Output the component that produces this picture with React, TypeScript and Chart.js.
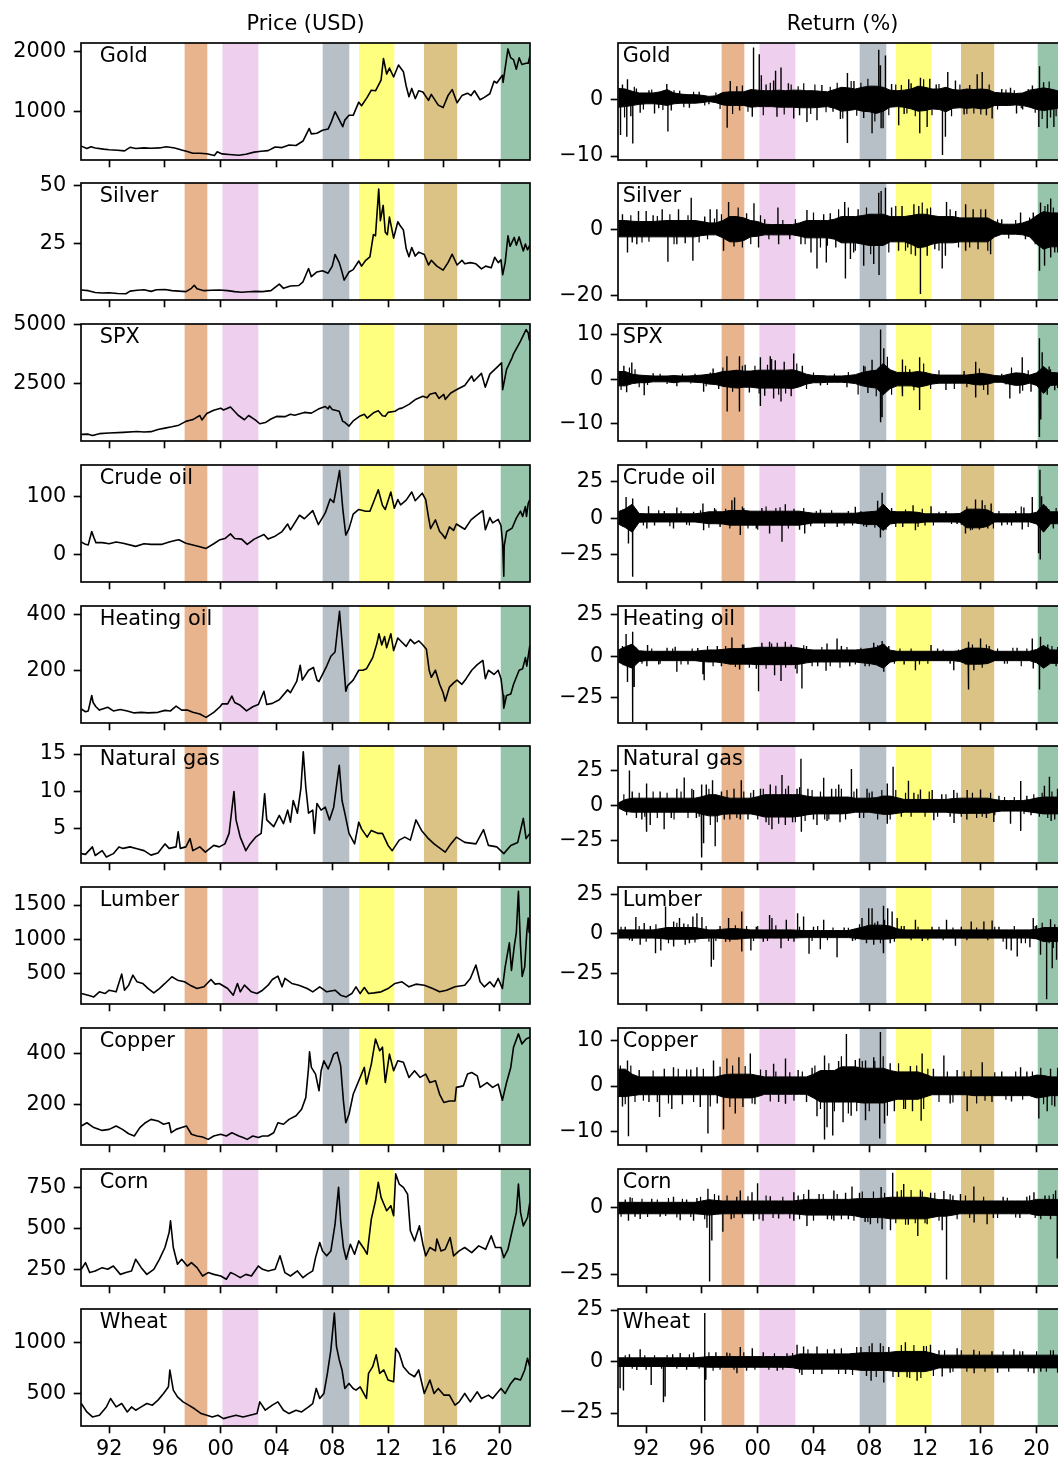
import React, { useEffect, useRef } from "react";
import { Chart, registerables } from "chart.js";

Chart.register(...registerables);
Chart.defaults.font.family = "DejaVu Sans";
Chart.defaults.color = "#000";

type Pair = [number, number];

// ---------------- time axis ----------------
const X_START = 1989.98;
const X_END = 2022.18;
const YEAR_TICKS = [1992, 1996, 2000, 2004, 2008, 2012, 2016, 2020];
const YEAR_LABELS = ["92", "96", "00", "04", "08", "12", "16", "20"];
const HALF_YEARS = Array.from({ length: 65 }, (_, i) => 1990 + i / 2);

// ---------------- shaded periods ----------------
const PERIOD_START = [1997.41, 2000.12, 2007.31, 2009.92, 2014.58, 2020.08];
const PERIOD_END = [1999.04, 2002.7, 2009.22, 2012.45, 2016.96, 2022.18];
const PERIOD_COLORS = ["#e8b48e", "#eecfee", "#b7bfc7", "#ffff7f", "#dbc285", "#96c5ab"];

const ASSETS = ["Gold", "Silver", "SPX", "Crude oil", "Heating oil", "Natural gas", "Lumber", "Copper", "Corn", "Wheat"];
const COLUMN_TITLES = ["Price (USD)", "Return (%)"];

// ---------------- prices [year, value] ----------------
const GOLD_PRICE: Pair[] = [[1990.0,415],[1990.4,375],[1990.7,405],[1991.0,385],[1991.6,365],[1992.0,355],[1992.6,345],[1993.1,335],[1993.5,395],[1993.9,375],[1994.5,385],[1995.0,380],[1995.6,385],[1996.1,405],[1996.7,385],[1997.2,350],[1997.6,325],[1998.0,295],[1998.5,295],[1999.0,288],[1999.55,258],[1999.75,320],[2000.1,285],[2000.6,275],[2001.3,262],[2001.8,280],[2002.4,315],[2002.9,330],[2003.4,340],[2003.9,400],[2004.4,390],[2004.9,435],[2005.4,425],[2005.9,500],[2006.35,710],[2006.5,620],[2006.9,630],[2007.3,680],[2007.7,700],[2007.95,830],[2008.2,990],[2008.45,880],[2008.75,740],[2008.9,850],[2009.2,930],[2009.5,930],[2009.9,1150],[2010.1,1090],[2010.5,1230],[2010.8,1350],[2011.1,1340],[2011.5,1520],[2011.67,1880],[2011.9,1620],[2012.1,1720],[2012.4,1570],[2012.75,1770],[2013.1,1660],[2013.3,1420],[2013.5,1240],[2013.7,1380],[2013.95,1210],[2014.2,1340],[2014.5,1320],[2014.9,1180],[2015.1,1280],[2015.6,1100],[2015.95,1060],[2016.3,1260],[2016.6,1360],[2016.95,1140],[2017.3,1260],[2017.7,1300],[2017.95,1260],[2018.2,1340],[2018.6,1190],[2018.9,1230],[2019.3,1290],[2019.6,1500],[2019.8,1470],[2020.2,1600],[2020.25,1480],[2020.6,2040],[2020.8,1890],[2021.0,1860],[2021.2,1700],[2021.4,1890],[2021.6,1780],[2021.9,1800],[2022.05,1800],[2022.17,1920]];
const SILVER_PRICE: Pair[] = [[1990.0,5.3],[1990.5,5.0],[1991.0,4.2],[1991.5,4.0],[1992.0,4.1],[1992.6,3.8],[1993.2,3.7],[1993.5,4.8],[1994.0,5.2],[1994.5,5.4],[1995.0,4.7],[1995.4,5.4],[1996.0,5.5],[1996.5,5.0],[1997.0,4.8],[1997.5,4.6],[1997.9,6.0],[1998.1,7.3],[1998.3,5.8],[1998.8,5.0],[1999.3,5.2],[1999.9,5.3],[2000.5,5.0],[2001.0,4.6],[2001.5,4.3],[2002.0,4.5],[2002.5,4.7],[2003.0,4.6],[2003.6,5.0],[2004.2,7.8],[2004.5,6.0],[2005.0,7.0],[2005.6,7.2],[2005.9,8.8],[2006.3,14.5],[2006.5,11.0],[2006.9,13.0],[2007.3,13.5],[2007.7,12.5],[2008.0,15.5],[2008.2,20.5],[2008.5,17.0],[2008.7,13.0],[2008.85,9.5],[2009.2,13.0],[2009.5,14.0],[2009.9,17.7],[2010.1,15.5],[2010.4,18.0],[2010.7,19.5],[2010.95,29.0],[2011.1,28.5],[2011.33,48.5],[2011.45,35.0],[2011.65,41.5],[2011.8,30.0],[2011.95,29.0],[2012.1,36.5],[2012.4,27.5],[2012.7,34.5],[2012.85,33.0],[2013.1,31.0],[2013.3,23.0],[2013.5,19.5],[2013.7,23.5],[2013.95,19.8],[2014.2,21.5],[2014.6,20.5],[2014.9,16.0],[2015.1,18.0],[2015.5,15.5],[2015.95,13.8],[2016.3,17.0],[2016.6,20.6],[2016.95,16.0],[2017.3,18.0],[2017.5,16.5],[2017.9,17.0],[2018.3,16.5],[2018.7,14.3],[2019.0,15.5],[2019.4,14.8],[2019.65,19.3],[2019.9,17.0],[2020.1,18.2],[2020.22,11.8],[2020.4,17.0],[2020.6,28.5],[2020.75,24.0],[2021.05,27.8],[2021.2,24.5],[2021.4,28.0],[2021.7,22.0],[2021.85,25.0],[2022.0,22.5],[2022.17,24.5]];
const SPX_PRICE: Pair[] = [[1990.0,350],[1990.5,360],[1990.8,300],[1991.0,330],[1991.3,380],[1992.0,410],[1993.0,435],[1994.0,470],[1994.5,450],[1995.0,465],[1995.5,560],[1996.0,615],[1996.5,670],[1997.0,740],[1997.5,900],[1997.8,950],[1998.0,975],[1998.5,1150],[1998.65,960],[1999.0,1230],[1999.5,1370],[2000.0,1460],[2000.2,1380],[2000.7,1510],[2001.0,1320],[2001.25,1160],[2001.7,970],[2002.0,1150],[2002.5,950],[2002.8,800],[2003.2,850],[2003.6,1000],[2004.0,1110],[2004.6,1100],[2005.0,1200],[2005.3,1160],[2006.0,1280],[2006.5,1250],[2007.0,1420],[2007.5,1530],[2007.7,1430],[2007.8,1550],[2008.0,1400],[2008.5,1330],[2008.75,900],[2008.9,860],[2009.2,700],[2009.5,920],[2010.0,1130],[2010.3,1200],[2010.5,1040],[2011.0,1280],[2011.3,1350],[2011.6,1140],[2011.8,1120],[2012.0,1280],[2012.5,1330],[2012.8,1440],[2013.0,1460],[2013.5,1620],[2014.0,1840],[2014.5,1960],[2014.8,1900],[2015.0,2050],[2015.4,2110],[2015.65,1870],[2016.0,2040],[2016.1,1830],[2016.5,2100],[2017.0,2270],[2017.5,2420],[2018.0,2820],[2018.15,2600],[2018.7,2930],[2018.97,2350],[2019.3,2900],[2019.9,3240],[2020.14,3380],[2020.22,2240],[2020.5,3100],[2020.9,3600],[2021.0,3760],[2021.5,4300],[2021.9,4780],[2022.05,4650],[2022.13,4350],[2022.17,4450]];
const CRUDE_PRICE: Pair[] = [[1990.0,22],[1990.3,18],[1990.5,17],[1990.75,40],[1990.9,30],[1991.05,21],[1991.5,21],[1992.0,19],[1992.5,22],[1993.0,20],[1993.9,14.5],[1994.5,19],[1995.0,18],[1995.8,18],[1996.3,22],[1996.8,25],[1997.0,26],[1997.5,20],[1998.0,17],[1998.5,14],[1998.95,11],[1999.5,19],[1999.95,26],[2000.3,28],[2000.7,36],[2001.0,28],[2001.5,27],[2001.9,18],[2002.4,27],[2003.1,35],[2003.4,27],[2003.9,32],[2004.4,40],[2004.8,53],[2005.0,43],[2005.65,68],[2006.0,62],[2006.6,76],[2007.0,52],[2007.5,72],[2007.85,96],[2008.1,90],[2008.3,115],[2008.52,145],[2008.75,80],[2008.97,34],[2009.2,45],[2009.5,70],[2009.9,78],[2010.4,75],[2010.7,75],[2010.95,90],[2011.3,112],[2011.6,85],[2011.8,78],[2012.2,108],[2012.45,80],[2012.7,95],[2012.9,86],[2013.3,94],[2013.7,108],[2013.95,93],[2014.45,106],[2014.7,95],[2014.9,65],[2015.05,45],[2015.4,60],[2015.7,40],[2015.9,35],[2016.1,28],[2016.4,48],[2016.7,42],[2016.9,53],[2017.5,44],[2017.95,60],[2018.3,67],[2018.8,76],[2018.98,43],[2019.3,64],[2019.5,55],[2019.9,61],[2020.1,50],[2020.22,20],[2020.3,-37],[2020.33,15],[2020.5,40],[2020.9,46],[2021.2,63],[2021.5,75],[2021.65,66],[2021.85,83],[2021.93,66],[2022.05,88],[2022.17,95]];
const HEATING_PRICE: Pair[] = [[1990.0,62],[1990.3,52],[1990.5,55],[1990.75,110],[1990.85,85],[1991.05,70],[1991.3,58],[1991.9,68],[1992.3,55],[1992.8,60],[1993.3,55],[1993.8,48],[1994.3,50],[1994.8,48],[1995.5,50],[1996.0,57],[1996.4,55],[1996.8,72],[1997.2,58],[1997.6,58],[1998.0,50],[1998.5,44],[1998.95,32],[1999.5,50],[1999.95,70],[2000.1,80],[2000.5,80],[2000.8,108],[2001.0,85],[2001.4,75],[2001.85,55],[2002.3,70],[2002.7,78],[2003.1,125],[2003.3,78],[2003.7,82],[2004.2,95],[2004.8,130],[2005.0,120],[2005.45,160],[2005.7,218],[2005.85,165],[2006.3,200],[2006.65,210],[2006.9,165],[2007.05,160],[2007.6,215],[2007.9,250],[2008.2,265],[2008.52,410],[2008.7,300],[2008.97,125],[2009.1,145],[2009.5,165],[2009.9,200],[2010.2,200],[2010.45,205],[2010.9,245],[2011.2,295],[2011.35,330],[2011.55,290],[2011.75,320],[2011.9,280],[2012.2,330],[2012.4,270],[2012.7,315],[2013.0,300],[2013.3,285],[2013.6,310],[2013.9,295],[2014.2,305],[2014.5,290],[2014.75,275],[2014.95,200],[2015.1,175],[2015.4,200],[2015.7,150],[2015.95,120],[2016.1,90],[2016.4,140],[2016.7,155],[2016.95,165],[2017.3,150],[2017.6,170],[2018.0,200],[2018.4,220],[2018.8,235],[2018.98,170],[2019.2,200],[2019.6,185],[2019.9,200],[2020.1,170],[2020.25,110],[2020.3,65],[2020.5,110],[2020.8,115],[2021.0,150],[2021.4,200],[2021.65,205],[2021.85,245],[2021.95,215],[2022.17,290]];
const NATGAS_PRICE: Pair[] = [[1990.0,1.7],[1990.3,1.6],[1990.8,2.6],[1991.0,1.45],[1991.5,2.1],[1991.8,1.25],[1992.3,1.7],[1992.7,2.6],[1993.0,2.4],[1993.5,2.6],[1994.0,2.35],[1994.5,2.1],[1995.0,1.5],[1995.5,1.8],[1996.0,3.0],[1996.3,2.4],[1996.8,2.6],[1996.95,4.6],[1997.1,2.4],[1997.5,2.6],[1997.8,3.7],[1998.0,2.1],[1998.5,2.6],[1998.9,1.9],[1999.5,2.8],[1999.9,2.6],[2000.3,3.0],[2000.6,4.4],[2000.95,10.0],[2001.1,6.2],[2001.4,3.9],[2001.8,2.1],[2002.1,3.0],[2002.5,3.9],[2002.9,4.4],[2003.15,9.7],[2003.3,6.2],[2003.8,5.3],[2004.2,6.8],[2004.5,5.7],[2004.8,7.5],[2005.0,5.9],[2005.2,8.8],[2005.5,7.1],[2005.75,10.4],[2005.92,15.3],[2006.1,10.6],[2006.3,7.1],[2006.6,7.5],[2006.72,4.4],[2006.9,8.4],[2007.2,7.5],[2007.5,7.9],[2007.8,6.2],[2008.1,7.9],[2008.5,13.5],[2008.7,8.8],[2008.9,7.1],[2009.2,4.4],[2009.6,3.0],[2009.9,5.9],[2010.1,5.0],[2010.5,3.9],[2010.8,4.8],[2011.3,4.4],[2011.6,4.4],[2012.0,2.8],[2012.3,2.1],[2012.8,3.5],[2013.2,3.9],[2013.6,3.5],[2014.0,6.2],[2014.4,4.8],[2014.9,3.7],[2015.3,3.0],[2016.1,1.9],[2016.5,3.0],[2016.9,3.9],[2017.5,3.2],[2018.3,3.0],[2018.85,4.9],[2019.2,2.8],[2019.8,2.6],[2020.3,1.7],[2020.8,2.8],[2021.3,3.2],[2021.7,6.4],[2021.9,3.7],[2022.17,4.4]];
const LUMBER_PRICE: Pair[] = [[1990.0,212],[1990.5,188],[1990.9,163],[1991.3,237],[1991.7,212],[1992.0,261],[1992.5,237],[1992.9,495],[1993.1,261],[1993.4,334],[1993.7,480],[1994.0,383],[1994.4,359],[1994.8,285],[1995.2,222],[1995.6,285],[1996.0,359],[1996.5,456],[1996.9,407],[1997.4,383],[1997.8,334],[1998.3,285],[1998.8,310],[1999.3,417],[1999.6,349],[1999.9,359],[2000.5,285],[2000.9,188],[2001.2,359],[2001.4,237],[2001.7,334],[2002.2,237],[2002.6,212],[2003.0,261],[2003.4,334],[2003.7,417],[2004.1,466],[2004.4,310],[2004.6,432],[2005.1,359],[2005.6,334],[2006.2,285],[2006.6,237],[2007.1,310],[2007.6,237],[2008.2,261],[2008.6,188],[2009.0,163],[2009.4,212],[2009.7,310],[2010.0,212],[2010.3,300],[2010.6,212],[2011.0,222],[2011.5,237],[2012.0,285],[2012.5,359],[2013.0,383],[2013.5,310],[2014.0,349],[2014.6,334],[2015.2,285],[2015.7,237],[2016.2,261],[2016.8,310],[2017.5,334],[2017.9,432],[2018.3,627],[2018.6,383],[2018.9,310],[2019.3,383],[2019.6,310],[2019.9,432],[2020.2,285],[2020.4,602],[2020.7,950],[2020.85,550],[2021.05,900],[2021.2,1100],[2021.35,1700],[2021.5,900],[2021.62,460],[2021.8,600],[2021.95,1100],[2022.05,1310],[2022.12,1100],[2022.17,1300]];
const COPPER_PRICE: Pair[] = [[1990.0,116],[1990.4,129],[1990.9,110],[1991.5,99],[1992.0,103],[1992.5,116],[1992.95,103],[1993.4,86],[1993.8,77],[1994.2,110],[1994.6,129],[1995.0,142],[1995.5,136],[1995.9,123],[1996.3,129],[1996.45,90],[1996.8,103],[1997.2,110],[1997.55,116],[1997.9,84],[1998.3,77],[1998.7,73],[1999.1,64],[1999.5,77],[2000.0,84],[2000.4,77],[2000.8,90],[2001.3,77],[2001.6,71],[2001.9,64],[2002.3,77],[2002.7,71],[2003.0,77],[2003.4,77],[2003.8,90],[2004.1,129],[2004.5,123],[2004.9,142],[2005.4,156],[2005.8,182],[2006.1,227],[2006.3,345],[2006.37,406],[2006.5,345],[2006.8,319],[2007.05,254],[2007.2,332],[2007.4,371],[2007.7,339],[2007.9,365],[2008.1,397],[2008.35,404],[2008.6,352],[2008.8,214],[2008.97,129],[2009.2,162],[2009.5,240],[2009.9,293],[2010.3,345],[2010.45,280],[2010.8,358],[2011.1,456],[2011.4,410],[2011.6,424],[2011.8,286],[2012.1,397],[2012.4,332],[2012.7,371],[2013.1,365],[2013.5,306],[2013.9,332],[2014.3,306],[2014.7,319],[2015.0,286],[2015.4,293],[2015.7,240],[2016.0,208],[2016.4,214],[2016.8,214],[2016.9,267],[2017.4,273],[2017.7,319],[2018.0,325],[2018.4,312],[2018.6,267],[2019.1,286],[2019.5,267],[2019.9,280],[2020.2,217],[2020.5,286],[2020.8,345],[2021.0,424],[2021.35,476],[2021.6,437],[2021.9,456],[2022.17,463]];
const CORN_PRICE: Pair[] = [[1990.0,250],[1990.3,291],[1990.6,230],[1991.0,240],[1991.5,260],[1991.9,250],[1992.3,270],[1992.8,219],[1993.2,230],[1993.6,240],[1993.9,311],[1994.3,260],[1994.7,219],[1995.2,250],[1995.6,311],[1996.0,383],[1996.3,474],[1996.4,546],[1996.6,383],[1996.9,281],[1997.2,311],[1997.6,270],[1997.9,291],[1998.3,260],[1998.7,209],[1999.1,230],[1999.5,219],[2000.0,209],[2000.4,189],[2000.7,230],[2001.0,219],[2001.4,199],[2001.8,219],[2002.2,209],[2002.7,270],[2003.0,250],[2003.4,240],[2003.9,250],[2004.25,332],[2004.6,230],[2005.0,209],[2005.5,240],[2005.9,199],[2006.2,219],[2006.6,240],[2006.8,321],[2007.1,413],[2007.3,362],[2007.6,332],[2007.9,362],[2008.2,525],[2008.45,750],[2008.6,546],[2008.8,383],[2009.0,311],[2009.3,403],[2009.6,342],[2009.9,423],[2010.3,372],[2010.5,342],[2010.8,556],[2011.1,668],[2011.3,781],[2011.5,689],[2011.7,648],[2011.9,607],[2012.2,638],[2012.4,577],[2012.55,832],[2012.8,770],[2013.1,750],[2013.4,709],[2013.6,485],[2013.9,423],[2014.25,515],[2014.5,403],[2014.7,332],[2015.0,383],[2015.4,362],[2015.5,434],[2015.8,362],[2016.1,372],[2016.45,444],[2016.7,332],[2017.1,362],[2017.5,383],[2018.0,352],[2018.5,393],[2019.0,372],[2019.4,454],[2019.7,383],[2020.1,383],[2020.3,321],[2020.6,372],[2020.9,485],[2021.2,597],[2021.35,770],[2021.5,597],[2021.7,515],[2022.0,566],[2022.17,658]];
const WHEAT_PRICE: Pair[] = [[1990.0,402],[1990.4,320],[1990.8,271],[1991.3,288],[1991.8,369],[1992.1,451],[1992.5,369],[1992.9,402],[1993.3,320],[1993.6,369],[1993.9,337],[1994.3,369],[1994.7,402],[1995.1,386],[1995.5,435],[1995.9,500],[1996.25,565],[1996.35,729],[1996.6,533],[1996.9,467],[1997.3,418],[1997.7,386],[1998.1,353],[1998.6,304],[1999.0,288],[1999.4,271],[1999.8,288],[2000.2,255],[2000.6,271],[2001.1,288],[2001.6,271],[2002.1,288],[2002.6,304],[2002.8,418],[2003.2,337],[2003.7,386],[2004.1,418],[2004.5,337],[2004.9,304],[2005.4,337],[2005.8,320],[2006.3,369],[2006.6,402],[2006.85,549],[2007.1,451],[2007.4,500],[2007.65,696],[2007.9,925],[2008.15,1284],[2008.3,958],[2008.5,827],[2008.7,729],[2008.9,549],[2009.2,598],[2009.5,549],[2009.7,533],[2010.0,565],[2010.45,451],[2010.6,696],[2010.9,761],[2011.15,876],[2011.4,696],[2011.7,729],[2012.0,631],[2012.4,614],[2012.55,941],[2012.8,892],[2013.1,761],[2013.5,696],[2013.9,663],[2014.2,729],[2014.6,500],[2015.0,631],[2015.3,500],[2015.6,549],[2016.0,484],[2016.4,484],[2016.8,386],[2017.1,418],[2017.5,500],[2017.9,418],[2018.4,516],[2018.7,451],[2019.2,484],[2019.5,451],[2019.9,516],[2020.1,549],[2020.4,500],[2020.8,598],[2021.1,647],[2021.5,631],[2021.8,729],[2022.0,843],[2022.17,761]];

// ---------------- returns: dense core of daily returns per half year (%) ----------------
const GOLD_RET_HI = [1.9,1.8,1.4,1.1,1.1,1.1,1.3,1.7,1.1,0.9,0.8,0.8,0.7, 0.5,0.6,1.2,1.3,1.3,1.3,1.7,1.6,1.5,1.5,1.6,1.5,1.6, 1.6,1.5,1.5,1.4,1.3,1.7,2.1,2.0,1.8,2.1,2.3,2.3,2.1, 1.6,1.5,1.6,1.8,2.3,2.1,1.8,1.8,2.1,1.7,1.6,1.8,1.7, 1.8,1.7,1.2,1.1,1.1,1.0,1.1,1.6,1.8,2.0,1.8,1.5,1.5];
const GOLD_RET_LO = [-1.4,-1.3,-1.1,-0.9,-0.8,-0.8,-0.9,-1.1,-0.8,-0.7,-0.7,-0.7,-0.6, -0.4,-0.6,-1.0,-1.1,-1.1,-1.1,-1.4,-1.3,-1.3,-1.3,-1.4,-1.4,-1.4, -1.5,-1.5,-1.5,-1.4,-1.3,-1.6,-2.1,-2.0,-1.8,-2.1,-2.2,-2.5,-2.1, -1.4,-1.3,-1.4,-1.7,-2.1,-2.0,-1.7,-1.8,-2.2,-1.6,-1.5,-1.6,-1.5, -1.7,-1.6,-1.1,-1.1,-1.1,-1.0,-1.1,-1.4,-1.8,-2.0,-1.8,-1.6,-1.5];
const SILVER_RET_HI = [2.6,2.6,2.4,2.3,2.3,2.3,2.5,2.6,2.6,2.6,2.6,2.6,2.3, 1.9,1.9,2.6,3.8,3.8,3.4,2.6,2.3,1.5,1.4,1.4,1.4,1.4, 1.9,2.6,2.6,2.6,2.6,3.0,3.8,3.8,3.8,4.1,4.5,4.5,4.5, 3.8,3.8,3.8,4.1,4.5,4.5,4.1,3.8,3.8,3.8,3.4,3.4,3.4, 3.4,3.4,2.3,1.5,1.5,1.5,1.9,2.6,4.1,5.3,4.9,4.9,4.5];
const SILVER_RET_LO = [-2.3,-2.3,-2.3,-2.3,-2.3,-2.3,-2.3,-2.3,-2.3,-2.3,-2.3,-2.3,-1.9, -1.7,-1.7,-2.6,-3.8,-3.8,-3.4,-2.3,-2.1,-1.7,-1.7,-1.7,-1.7,-1.7, -2.1,-2.6,-2.6,-2.6,-2.6,-3.0,-4.1,-4.1,-4.1,-4.5,-4.9,-4.9,-4.9, -3.8,-3.8,-3.8,-4.5,-5.6,-5.3,-4.5,-4.1,-4.1,-4.1,-3.8,-3.8,-3.8, -3.8,-3.8,-2.3,-1.5,-1.5,-1.5,-1.7,-2.3,-4.5,-6.0,-5.3,-5.3,-4.5];
const SPX_RET_HI = [1.7,1.7,1.1,0.9,0.8,0.7,0.7,0.7,0.8,0.7,0.7,0.8,0.9, 1.1,1.3,1.7,1.8,2.0,1.8,1.8,2.0,2.0,2.0,2.0,2.0,2.1, 1.7,1.1,0.8,0.8,0.7,0.7,0.7,0.8,1.0,1.5,1.8,2.0,3.5, 2.1,1.5,1.5,1.5,1.7,1.5,1.1,0.9,0.9,0.9,0.9,0.9,1.1, 1.3,1.1,0.8,0.7,1.1,1.4,1.3,0.9,1.4,2.8,1.5,1.4,1.4];
const SPX_RET_LO = [-1.5,-1.5,-1.0,-0.8,-0.8,-0.6,-0.6,-0.6,-0.8,-0.6,-0.6,-0.7,-0.8, -1.1,-1.2,-1.6,-1.8,-2.0,-1.8,-1.8,-2.0,-2.0,-2.0,-2.0,-2.0,-2.1, -1.7,-1.1,-0.8,-0.8,-0.7,-0.7,-0.7,-0.8,-1.0,-1.5,-1.8,-2.0,-3.5, -2.1,-1.5,-1.5,-1.5,-1.8,-1.5,-1.1,-0.9,-0.9,-0.9,-0.9,-0.9,-1.2, -1.3,-1.1,-0.7,-0.7,-1.1,-1.4,-1.3,-0.9,-1.4,-3.2,-1.4,-1.3,-1.4];
const CRUDE_RET_HI = [4.4,6.4,9.6,3.2,3.0,3.0,3.0,3.0,3.0,3.0,3.0,3.0,3.6, 4.4,4.4,4.4,5.3,5.3,5.3,4.8,4.8,4.8,4.8,4.8,4.8,4.8, 4.8,4.0,3.4,3.4,3.4,3.4,3.4,3.4,3.4,4.0,4.4,4.8,9.6, 4.8,4.4,4.4,4.4,4.0,3.0,3.0,3.0,3.0,3.0,3.2,6.2,6.2, 6.2,5.6,3.0,3.0,3.0,3.0,3.0,3.0,4.0,9.6,4.4,4.4,4.4];
const CRUDE_RET_LO = [-4.0,-6.4,-9.6,-2.8,-2.6,-2.6,-2.6,-2.6,-2.6,-2.6,-2.6,-2.6,-3.2, -3.8,-3.8,-4.0,-4.8,-4.8,-4.8,-4.8,-4.8,-4.8,-4.8,-4.8,-4.8,-4.8, -4.8,-4.0,-3.3,-3.3,-3.3,-3.3,-3.3,-3.3,-3.3,-4.0,-4.4,-4.4,-8.4, -4.0,-3.3,-3.3,-3.3,-3.3,-2.6,-2.6,-2.6,-2.6,-2.6,-2.8,-6.6,-6.6, -6.6,-5.6,-2.6,-2.6,-2.6,-2.6,-2.6,-2.6,-4.0,-9.6,-3.8,-3.8,-4.0];
const HEATING_RET_HI = [3.7,5.6,7.2,3.2,2.9,2.9,2.9,2.9,2.9,2.9,2.9,2.9,3.4, 3.7,3.7,4.0,4.5,4.5,4.5,4.8,5.3,5.3,5.3,5.3,5.3,5.3, 4.8,4.0,3.7,3.7,3.7,3.7,3.7,3.7,3.7,4.0,4.5,5.2,7.2, 3.6,2.9,2.9,2.9,2.9,2.9,2.9,2.9,2.9,2.9,3.2,4.8,4.8, 4.8,4.4,2.9,2.9,2.9,2.9,2.9,2.9,4.0,6.4,3.7,3.7,3.7];
const HEATING_RET_LO = [-3.5,-5.6,-7.2,-3.2,-2.7,-2.7,-2.7,-2.7,-2.7,-2.7,-2.7,-2.7,-3.2, -3.5,-3.5,-4.0,-4.8,-4.8,-4.8,-4.8,-5.1,-5.1,-5.1,-5.1,-5.1,-5.1, -4.8,-4.0,-3.5,-3.5,-3.5,-3.5,-3.5,-3.5,-3.5,-4.0,-4.4,-5.2,-7.2, -3.6,-2.7,-2.7,-2.7,-2.7,-2.7,-2.7,-2.7,-2.7,-2.7,-3.2,-4.8,-4.8, -4.8,-4.4,-2.7,-2.7,-2.7,-2.7,-2.7,-2.7,-4.0,-7.2,-4.3,-4.3,-4.3];
const NATGAS_RET_HI = [1.8,4.2,5.2,5.2,5.2,5.2,5.2,5.2,5.2,5.2,5.2,5.2,6.3, 7.7,7.7,6.3,5.2,5.2,5.2,5.2,6.3,7.7,7.7,7.7,7.7,7.7, 7.7,6.7,6.0,6.0,6.0,6.0,6.0,6.0,5.2,5.2,5.2,5.6,6.7, 6.7,5.6,4.3,4.3,4.3,4.3,4.3,4.3,4.3,4.9,5.2,5.2,5.2, 5.2,5.2,4.2,3.5,3.5,3.5,3.5,4.2,5.3,6.0,6.0,6.0,6.0];
const NATGAS_RET_LO = [-1.8,-4.2,-4.8,-4.8,-4.8,-4.8,-4.8,-4.8,-4.8,-4.8,-4.8,-4.8,-6.3, -7.4,-7.4,-6.3,-6.0,-6.0,-6.0,-6.0,-7.0,-8.2,-8.2,-8.2,-8.2,-8.2, -7.7,-6.7,-6.0,-6.0,-6.0,-6.0,-6.0,-5.6,-4.8,-4.8,-4.8,-5.6,-6.3, -6.3,-5.6,-4.8,-4.8,-4.8,-4.8,-4.8,-4.8,-4.8,-5.3,-5.6,-5.6,-5.6, -5.6,-5.6,-4.6,-4.0,-4.0,-4.0,-4.0,-4.6,-5.3,-6.0,-6.0,-6.0,-6.0];
const LUMBER_RET_HI = [2.5,2.5,2.5,2.5,2.5,2.5,3.2,4.0,4.0,4.0,4.0,4.0,3.2, 2.5,2.5,2.9,3.3,3.3,2.9,2.5,2.5,2.5,2.5,2.5,2.5,2.5, 2.2,2.1,2.1,2.1,2.1,2.1,2.1,2.1,3.2,4.2,5.5,5.5,5.5, 4.9,3.2,2.5,2.5,2.5,2.5,2.5,2.5,2.5,2.5,2.5,2.5,2.5, 2.5,2.5,2.5,2.5,2.5,2.5,2.5,2.5,2.9,4.0,4.0,4.0,4.0];
const LUMBER_RET_LO = [-2.7,-2.7,-2.7,-2.7,-2.7,-2.7,-2.9,-3.4,-3.4,-3.4,-3.4,-3.4,-2.9, -2.7,-2.7,-2.9,-3.4,-3.4,-2.9,-2.7,-2.7,-2.7,-2.7,-2.7,-2.7,-2.7, -2.5,-2.4,-2.4,-2.4,-2.4,-2.4,-2.4,-2.4,-2.8,-3.4,-3.4,-3.4,-3.4, -3.2,-2.7,-2.7,-2.7,-2.7,-2.7,-2.7,-2.7,-2.7,-2.7,-2.7,-2.7,-2.7, -2.7,-2.7,-2.7,-2.7,-2.7,-2.7,-2.7,-2.7,-3.2,-4.9,-4.9,-4.9,-4.9];
const COPPER_RET_HI = [3.7,3.7,2.6,2.0,2.0,2.0,2.0,2.0,2.0,2.0,2.0,2.0,2.0, 2.0,2.0,2.4,2.6,2.6,2.6,2.6,2.3,2.0,2.0,2.0,2.0,2.0, 2.0,2.0,2.6,3.4,3.4,3.4,4.2,4.2,4.2,3.9,3.9,3.9,3.9, 3.4,3.1,3.1,3.1,3.1,2.6,2.0,2.0,2.0,2.0,2.0,2.0,2.0, 2.0,2.0,2.0,2.0,2.0,2.0,2.0,2.0,2.4,2.3,2.0,2.0,2.0];
const COPPER_RET_LO = [-2.3,-2.3,-2.1,-1.9,-1.9,-1.9,-1.9,-1.9,-1.9,-1.9,-1.9,-1.9,-1.9, -1.9,-1.9,-2.4,-2.6,-2.6,-2.6,-2.6,-2.3,-1.8,-1.8,-1.8,-1.8,-1.8, -1.8,-1.8,-2.6,-3.5,-3.5,-3.5,-3.5,-3.5,-3.5,-3.7,-3.7,-3.7,-3.7, -3.3,-2.9,-2.9,-2.9,-2.9,-2.4,-1.9,-1.9,-1.9,-1.9,-1.9,-1.9,-2.1, -2.1,-2.1,-2.1,-2.1,-2.1,-2.1,-2.1,-2.1,-2.6,-2.4,-2.1,-2.1,-2.1];
const CORN_RET_HI = [1.9,1.9,1.9,1.9,1.9,1.9,1.9,1.9,1.9,1.9,1.9,1.9,2.4, 2.9,2.6,2.4,2.4,2.4,2.4,2.4,2.4,2.4,2.4,2.4,2.4,2.4, 2.7,3.0,3.0,3.0,3.0,3.0,3.0,3.0,3.2,3.3,3.3,3.3,3.5, 3.8,3.8,3.8,3.8,3.8,3.8,3.3,2.9,2.9,2.6,2.4,2.4,2.4, 2.4,2.4,2.4,2.4,2.4,2.4,2.4,2.4,3.0,3.0,3.0,3.0,3.0];
const CORN_RET_LO = [-2.4,-2.4,-2.4,-2.4,-2.4,-2.4,-2.4,-2.4,-2.4,-2.4,-2.4,-2.4,-2.6, -2.9,-2.6,-2.4,-2.4,-2.4,-2.4,-2.4,-2.4,-2.4,-2.4,-2.4,-2.4,-2.4, -2.6,-2.9,-2.9,-2.9,-2.9,-2.9,-2.9,-2.9,-3.2,-3.8,-3.8,-3.8,-3.9, -4.3,-4.3,-4.3,-4.3,-4.3,-4.3,-3.8,-3.3,-3.3,-2.9,-2.4,-2.4,-2.4, -2.4,-2.4,-2.4,-2.4,-2.4,-2.4,-2.4,-2.4,-3.0,-3.0,-3.0,-3.0,-3.0];
const WHEAT_RET_HI = [1.8,1.8,1.8,1.8,1.8,1.8,1.8,1.8,1.8,1.8,1.8,1.8,2.1, 2.4,2.4,2.4,2.4,2.4,2.4,2.4,2.4,2.4,2.4,2.4,2.4,2.7, 3.7,3.7,3.7,3.7,3.7,3.7,3.7,3.7,4.0,4.3,4.3,4.3,4.3, 4.5,4.9,4.9,4.9,4.9,4.9,4.1,3.1,3.1,3.1,3.1,3.1,3.1, 3.1,3.1,3.1,3.1,3.1,3.1,3.1,3.1,3.1,3.1,3.1,3.1,3.1];
const WHEAT_RET_LO = [-2.4,-2.4,-2.4,-2.4,-2.4,-2.4,-2.4,-2.4,-2.4,-2.4,-2.4,-2.4,-2.6, -2.8,-2.8,-2.8,-2.8,-2.8,-2.8,-2.8,-2.8,-2.8,-2.8,-2.8,-2.8,-3.0, -3.7,-3.7,-3.7,-3.7,-3.7,-3.7,-3.7,-3.7,-4.0,-4.3,-4.3,-4.3,-4.3, -4.5,-4.9,-4.9,-4.9,-4.9,-4.9,-4.1,-3.1,-3.1,-3.1,-3.1,-3.1,-3.1, -3.1,-3.1,-3.1,-3.1,-3.1,-3.1,-3.1,-3.1,-3.1,-3.1,-3.1,-3.1,-3.1];

// ---------------- returns: large single-day moves [year, %] ----------------
const GOLD_SPIKES: Pair[] = [[1990.16,-6.3],[1990.61,-6.6],[1990.66,3.5],[1991.04,-7.8],[1991.57,-2.4],[1992.6,-2.5],[1993.48,2.7],[1993.56,-5.7],[1997.81,-5.0],[1998.03,3.2],[1999.61,-3.1],[1999.7,9.1],[2000.11,7.9],[2000.26,4.2],[2001.14,3.3],[2001.28,5.0],[2001.38,-3.1],[2001.67,5.6],[2002.58,-3.4],[2003.53,-4.0],[2004.25,-3.7],[2005.93,-3.5],[2006.41,-7.7],[2006.45,4.6],[2008.2,-6.0],[2008.68,8.7],[2008.8,6.0],[2008.85,-5.1],[2008.99,-5.1],[2009.16,7.7],[2010.11,-4.6],[2010.83,3.5],[2011.62,-6.0],[2011.67,3.8],[2012.15,-4.9],[2012.34,3.6],[2013.25,-9.8],[2013.46,-6.6],[2013.63,4.8],[2014.18,3.3],[2015.74,4.4],[2016.1,4.8],[2016.81,-3.4],[2018.13,2.0],[2018.56,-2.5],[2020.16,-4.9],[2020.21,5.8],[2020.76,-5.1],[2021.24,-4.9],
  [1990.3,2.6],[1990.9,-3.0],[1991.3,1.9],[1992.2,1.6],[1992.9,-1.6],[1993.8,-2.0],[1994.4,1.5],[1995.1,-1.5],[1995.8,1.3],[1996.5,-0.9],[1998.5,2.3],[1998.7,-2.0],[2000.6,2.6],[2002.2,2.8],[2003.0,-2.8],[2004.6,2.5],[2005.4,-2.2],[2006.9,3.2],[2007.6,-3.3],[2009.6,2.7],[2010.5,-2.6],[2011.0,2.8],[2012.8,2.6],[2014.8,-2.7],[2015.2,2.5],[2016.4,-2.8],[2017.5,1.8],[2019.0,-1.8],[2019.7,2.4],[2020.5,3.0],[2021.0,-3.2]];
const SILVER_SPIKES: Pair[] = [[1990.66,-7],[1991.33,-4.5],[1991.45,5.5],[1992.0,5.5],[1993.56,-9.8],[1993.15,6],[1995.23,9.5],[1994.32,6],[1996.59,6],[1995.35,-9.5],[1994.2,-4.5],[1997.07,6],[1997.91,8.2],[1997.55,-6.5],[1999.73,7.8],[2000.06,-5.5],[2001.45,6.5],[2001.5,-4.5],[2003.53,5.8],[2004.73,4.5],[2004.25,-11.8],[2004.92,-10],[2003.82,-7],[2006.24,8.2],[2006.29,-14.8],[2006.65,-9],[2006.88,-7],[2008.68,11],[2009.16,12.5],[2008.85,11.5],[2008.7,-13.8],[2007.6,-11],[2008.32,-10.5],[2010.35,7],[2011.67,-19.5],[2011.31,-8],[2012.15,-8],[2010.76,-5.5],[2011.55,7],[2012.16,6.2],[2013.23,-11.8],[2013.46,-8],[2013.54,8.2],[2014.9,7.5],[2015.45,6],[2016.34,6],[2016.7,-7.5],[2014.92,-6.5],[2018.85,5],[2019.76,5],[2020.28,8],[2021.0,9.2],[2020.21,-12.5],[2020.57,-11],[2021.02,-8.5],
  [1990.3,4.5],[1991.0,-4.0],[1992.5,4.2],[1994.8,-4.2],[1996.2,3.8],[1998.3,-5.2],[1999.2,4.8],[2000.5,3.0],[2002.3,-3.0],[2003.1,-4.5],[2005.2,4.8],[2005.6,-5.5],[2007.2,6.0],[2009.6,6.5],[2010.1,-6.5],[2011.2,7.5],[2012.7,-6.0],[2014.2,5.5],[2015.8,-6.0],[2017.5,3.0],[2019.2,-3.0],[2020.8,7.5],[2021.3,-7.0]];
const SPX_SPIKES: Pair[] = [[1990.97,3.7],[1991.86,-3.6],[1996.12,-2.8],[1997.81,-7.2],[1998.68,-7.2],[2000.18,-6],[2001.67,-5],[2001.14,-4.3],[1997.79,5.1],[1998.7,5.1],[2000.2,4.9],[2000.9,5.1],[2002.58,5.7],[2001.26,4.2],[2008.2,4.3],[2008.8,11.1],[2008.82,-9.6],[2009.04,6.9],[2008.92,-8.5],[2010.35,4.4],[2011.6,4.9],[2011.62,-6.9],[2015.62,3.9],[2015.64,-4.1],[2018.97,4.9],[2018.08,-4.3],[2020.19,9.1],[2020.21,-12.9],[2020.3,-9],[2020.4,6],[2020.76,-3.5],
  [1990.4,3.0],[1990.6,-2.9],[1992.5,1.3],[1994.2,-1.6],[1995.5,1.2],[1996.8,2.4],[1997.2,-2.2],[1999.1,3.2],[1999.4,-3.0],[2000.5,-3.7],[2001.9,3.9],[2002.4,-3.8],[2003.2,3.0],[2004.5,-1.4],[2006.4,-1.8],[2007.6,3.0],[2007.9,-3.1],[2010.4,-3.8],[2010.9,2.2],[2013.5,-2.4],[2014.8,1.8],[2016.5,-3.5],[2017.5,1.2],[2018.8,-3.2],[2019.6,-2.8],[2020.9,2.8],[2021.3,-2.5]];
const CRUDE_SPIKES: Pair[] = [[1990.56,14.6],[1991.02,13.5],[1990.73,-17.4],[1991.04,-40.2],[1992.17,8.2],[1994.2,7.3],[1996.07,10],[1992.05,-7],[1993.96,-7],[1996.12,-8.2],[1998.34,14.2],[1998.15,12.3],[1998.75,-11.6],[2001.98,9.6],[2001.74,-16.2],[2000.85,-10.5],[2003.37,-10.5],[2007.0,7.8],[2008.92,17.4],[2008.8,-13.2],[2008.6,12],[2011.14,8.9],[2011.31,-8.2],[2012.43,8.2],[2015.62,12.8],[2016.1,12.3],[2016.74,10],[2014.9,-10.5],[2015.26,-8.2],[2019.69,14.6],[2019.09,7.3],[2018.97,-7.8],[2020.24,33.3],[2020.26,-28.3],[2020.14,-24],[2020.36,15],
  [1990.2,5.5],[1992.6,-5],[1993.3,5],[1994.9,-4.5],[1995.4,4.5],[1997.0,6],[1997.3,-6],[1999.0,6.8],[1999.9,-7],[2000.3,7],[2002.6,6.5],[2003.0,-8],[2004.5,6],[2005.7,-6],[2006.5,5],[2007.8,-6],[2009.6,7],[2010.4,-6],[2012.0,-5],[2013.5,5],[2014.3,-4],[2016.5,-7],[2017.5,-5],[2018.5,5],[2020.7,8],[2021.2,-7]];
const HEATING_SPIKES: Pair[] = [[1990.56,13.2],[1991.02,14.6],[1990.66,-15.4],[1991.04,-39.4],[1991.14,-18.4],[1992.1,6.6],[1994.08,5.6],[1992.05,-6],[1994.2,-9.4],[1996.16,-14.4],[1996.07,-10.8],[1998.15,11.2],[1998.7,-8],[2000.85,8.6],[2001.98,8.6],[2000.06,-21],[2001.67,-14.8],[2001.21,-11.4],[2003.17,-19.4],[2002.82,-10.4],[2005.69,10.6],[2004.97,7.6],[2004.9,-8.8],[2008.32,8],[2008.92,9],[2009.04,-9.4],[2012.43,6.6],[2011.31,-8.4],[2014.06,-8.4],[2015.98,10.6],[2015.09,8.6],[2015.14,-20],[2015.5,-8.4],[2019.69,10.6],[2019.76,-7.4],[2020.28,11.6],[2020.21,-20],
  [1990.3,6],[1992.9,-5],[1993.5,5],[1995.0,-5],[1995.7,4.8],[1997.1,6],[1997.4,-6],[1999.0,7],[1999.9,-7.5],[2000.3,8],[2002.4,7],[2003.5,6],[2004.3,-6],[2006.0,6],[2006.6,-6],[2007.7,-6],[2009.4,6],[2010.5,-5],[2012.9,4.5],[2013.8,-4.5],[2016.6,6],[2017.7,-4.5],[2018.6,5],[2020.8,7],[2021.4,-6]];
const NATGAS_SPIKES: Pair[] = [[1990.8,25],[1992.05,15.7],[1994.73,20],[1995.95,15],[1995.28,12],[1992.0,-18.8],[1992.29,-14],[1993.29,-17],[1991.69,-10],[1996.0,-37.1],[1996.12,-27],[1996.95,-29],[1996.76,18],[1996.31,15],[1998.82,18],[1999.7,11],[1998.75,-10],[2001.74,21.7],[2000.9,15],[2002.82,12],[2001.02,-17],[2003.13,-18.8],[2001.98,-14],[2003.1,33.3],[2004.73,19.8],[2005.81,15],[2004.25,-14],[2004.97,-11],[2006.72,26],[2007.84,12],[2009.71,27.6],[2009.28,15.7],[2009.3,-13],[2010.81,17.6],[2011.67,11.4],[2012.51,11],[2012.63,-10.5],[2014.06,11],[2015.02,11],[2015.98,11.4],[2014.08,-12.4],[2015.0,-10],[2016.93,-11.7],[2018.85,17.4],[2018.87,-18.1],[2018.13,-13],[2020.92,20.5],[2020.56,14],[2021.04,-11],
  [1991.0,10],[1991.3,-9],[1993.0,10],[1993.8,-9],[1994.2,12],[1995.6,-9],[1997.4,10],[1997.6,-10],[1998.3,12],[1999.3,-10],[2000.2,12],[2000.6,-12],[2002.2,14],[2002.5,-12],[2003.6,12],[2004.0,-10],[2005.3,12],[2005.9,-12],[2007.1,12],[2007.3,-9],[2008.2,10],[2010.3,-8],[2011.2,9],[2013.2,8],[2013.8,-8],[2016.4,-9],[2017.3,7],[2019.3,7],[2019.6,-7],[2021.5,12],[2021.3,-10]];
const LUMBER_SPIKES: Pair[] = [[1991.26,10.6],[1991.86,6.8],[1991.57,-7],[1992.67,-12.3],[1993.05,-10.6],[1993.39,17.4],[1994.39,10],[1995.35,11],[1995.64,13.1],[1996.0,10.6],[1993.96,7.8],[1993.98,-8],[1994.8,-7],[1996.67,-20.8],[1996.83,-16.5],[1997.91,10],[1998.84,14.2],[1998.87,-11.2],[2000.85,12],[2001.02,10],[2002.05,8.9],[2002.86,13.1],[2001.67,-9.1],[1999.51,-10.6],[2003.29,11],[2004.73,8.9],[2003.68,-12.7],[2004.49,-9.8],[2005.69,-14.8],[2007.48,10],[2007.96,16.3],[2008.2,16.3],[2009.04,17.8],[2009.32,16.3],[2009.64,14.2],[2010.0,10],[2008.99,-12.3],[2008.32,-7],[2011.31,8.9],[2013.54,8.9],[2014.18,-7.5],[2015.31,7.8],[2016.22,7.8],[2016.81,8.5],[2017.84,-9.8],[2018.18,-10.6],[2018.61,-14.4],[2019.52,-8.5],[2019.76,10],[2021.0,9.3],[2020.28,-13.3],[2020.72,-41.5],[2021.12,-21.8],[2021.43,-16.5],
  [1990.5,4.5],[1991.0,-4.5],[1992.3,5],[1994.7,6.5],[1995.1,-6],[1997.3,5],[1997.7,-5],[1999.9,4.5],[2000.4,-5],[2002.6,-5],[2004.0,4.5],[2006.2,4],[2006.8,-4.5],[2007.8,-6],[2008.6,8],[2009.5,-6],[2010.5,5],[2011.8,-4.5],[2012.5,4.5],[2014.6,4.5],[2017.3,4.5],[2018.9,-6],[2020.0,5.5],[2021.3,6]];
const COPPER_SPIKES: Pair[] = [[1990.66,5.6],[1990.73,-11],[1993.96,4.1],[1996.83,5.6],[1995.64,4.1],[1992.96,-6.8],[1993.84,-5],[1996.43,-10.4],[1995.88,-4.6],[1997.79,6],[1998.65,6.3],[1999.47,7.1],[1997.55,-9.5],[1998.39,-6],[1998.94,-4.6],[2001.98,6],[2001.14,4.9],[2002.0,-3.9],[2004.8,6.7],[2004.25,-6.6],[2004.78,-11.7],[2005.38,-10.8],[2004.97,-9],[2006.36,11.4],[2007.0,5.7],[2006.12,-7.9],[2008.8,11.8],[2008.32,6.3],[2007.72,5.6],[2008.75,-11.5],[2007.74,-7.5],[2009.09,-8.2],[2011.79,7.1],[2010.95,4.4],[2011.72,-7.6],[2010.47,-5],[2013.35,6.7],[2015.02,-5.5],[2016.1,5.2],[2018.85,4.1],[2020.16,-7.1],[2020.76,-5.5],
  [1990.3,-4.5],[1991.5,3.5],[1992.2,-3.5],[1993.3,3.8],[1994.6,-4.0],[1995.2,3.6],[1997.1,-3.8],[1999.8,-4.0],[2000.6,3.5],[2001.5,-3.5],[2002.9,3.5],[2003.5,-3.5],[2003.9,4.0],[2005.8,5.5],[2006.7,-6.5],[2007.3,6.0],[2009.5,5.0],[2009.8,-5.5],[2011.1,-5.5],[2012.6,3.8],[2013.8,-3.8],[2014.3,3.5],[2016.8,-3.5],[2017.5,3.2],[2018.2,-3.4],[2019.3,3.2],[2021.0,3.8],[2021.3,-4.5]];
const CORN_SPIKES: Pair[] = [[1990.85,3.8],[1993.96,4],[1995.64,3.5],[1990.73,-5],[1991.57,-4.4],[1994.44,-4.8],[1995.4,-5],[1996.43,7],[1996.55,-27.8],[1996.71,-12.4],[1996.36,-7.6],[1998.75,6.3],[1999.99,9.1],[1999.59,5.7],[2002.58,5.7],[1997.5,-9.1],[1999.7,-5],[2000.38,-5],[2002.6,-5],[2003.65,6.6],[2005.45,6.3],[2006.76,7.8],[2003.53,-7],[2005.47,-5],[2008.85,7.6],[2008.92,-8.2],[2008.08,-6.3],[2009.68,13],[2010.47,8.8],[2011.67,6.6],[2011.48,-10.7],[2009.52,-8.6],[2012.15,-6.3],[2013.35,6.1],[2013.54,-27.1],[2013.23,-8.6],[2015.5,7.8],[2014.54,5],[2019.81,5.7],[2016.45,-6.3],[2015.52,-5.7],[2021.36,6.3],[2021.48,-19.2],
  [1990.5,3.0],[1991.2,-3.5],[1992.4,3.2],[1993.0,-3.5],[1994.9,3.0],[1997.2,4.5],[1998.1,-4.5],[1998.5,4.0],[2000.9,4.2],[2001.5,-4.2],[2002.9,4.5],[2004.4,5.0],[2005.0,-4.5],[2006.3,5.5],[2006.5,-4.5],[2007.3,5.5],[2007.7,-5.5],[2010.0,6.0],[2010.8,-6.5],[2012.4,5.5],[2014.0,4.5],[2016.9,-4.0],[2017.6,4.0],[2018.8,-4.0],[2019.3,4.0],[2020.6,4.5],[2021.0,-4.5]];
const WHEAT_SPIKES: Pair[] = [[1991.57,6],[1994.44,4.1],[1995.4,4.4],[1990.13,-13],[1990.37,-14.1],[1992.36,-11.4],[1993.24,-19.8],[1993.36,-17],[1991.33,-4.1],[1996.19,23.5],[1996.21,-28.9],[1996.28,-8.9],[1998.75,7],[1999.61,6.5],[1997.79,4.4],[1998.51,-5.7],[2002.82,8.1],[2003.29,7.3],[2004.25,7.3],[2003.17,-6.5],[2008.2,8.9],[2008.8,8.9],[2008.13,-9.3],[2009.04,-10.2],[2010.59,9.3],[2012.39,8.1],[2010.71,-7.6],[2011.43,-9.3],[2014.3,6.5],[2015.5,5.7],[2018.37,6],[2013.23,-7.3],[2015.52,-5.7],[2019.81,-5.7],
  [1990.8,3.5],[1992.0,-4.0],[1993.9,3.5],[1994.9,-4.0],[1997.0,4.5],[1999.2,-4.5],[2000.4,4.5],[2001.4,-4.5],[2002.1,4.0],[2004.6,-6.0],[2005.5,6.0],[2006.3,-6.0],[2007.4,7.0],[2007.8,-7.0],[2009.4,7.0],[2010.1,-7.5],[2011.9,7.5],[2013.0,5.5],[2013.8,-5.5],[2016.8,5.0],[2017.2,-5.5],[2019.0,5.0],[2020.3,-5.0],[2021.2,5.5]];

// ---------------- returns: smaller moves just outside the core [year, %] ----------------
const GOLD_MINOR: Pair[] = [[1990.45,-3.2],[1991.15,2.2],[1991.8,-1.8],[1992.4,1.7],[1993.2,-1.9],[1994.0,1.6],[1994.7,-1.4],[1995.4,1.3],[1996.2,-1.1],[1997.0,1.2],[1997.3,-1.7],[1998.2,-2.6],[1998.9,2.4],[1999.3,-2.2],[2000.4,-2.8],[2000.9,2.9],[2001.9,-2.7],[2002.4,2.6],[2002.9,2.3],[2003.3,2.8],[2003.8,-2.6],[2004.1,2.6],[2004.9,-2.3],[2005.2,2.2],[2005.7,2.9],[2006.1,-3.4],[2006.7,3.2],[2007.1,-2.9],[2007.4,2.9],[2007.9,3.6],[2008.4,-3.9],[2009.4,-2.8],[2009.9,2.6],[2010.3,2.5],[2010.7,-2.5],[2011.3,-3.0],[2011.9,3.5],[2012.5,-2.8],[2013.0,2.7],[2013.9,-3.0],[2014.5,2.6],[2015.0,-2.6],[2015.5,-2.5],[2016.0,-2.7],[2016.6,2.6],[2017.2,-1.8],[2017.8,1.7],[2018.4,1.6],[2018.9,-1.6],[2019.4,1.8],[2019.9,-2.4],[2020.4,-3.5],[2020.9,3.1],[2021.4,-3.0]];
const SILVER_MINOR: Pair[] = [[1990.9,4.2],[1991.7,-4.0],[1992.2,-3.8],[1992.8,4.0],[1993.7,4.5],[1994.0,-4.5],[1995.0,4.2],[1995.8,-4.0],[1996.4,-3.0],[1996.9,3.2],[1997.4,4.5],[1998.6,6.5],[1998.9,-5.5],[1999.5,-4.5],[2000.2,4.2],[2000.8,-3.0],[2001.8,2.8],[2002.7,3.0],[2003.4,-4.5],[2004.0,5.0],[2004.5,-5.5],[2005.0,-5.0],[2005.8,6.0],[2006.5,6.5],[2007.0,-6.5],[2007.8,6.5],[2008.1,-7.5],[2009.4,-7.0],[2009.9,7.0],[2010.6,-6.5],[2011.0,-7.5],[2011.8,8.0],[2012.4,6.5],[2013.0,-6.5],[2013.8,6.0],[2014.4,-5.5],[2015.2,-5.5],[2016.0,6.0],[2016.5,-6.5],[2017.2,3.0],[2018.0,-2.8],[2018.5,2.8],[2019.5,3.5],[2019.9,-4.5],[2020.6,7.0],[2021.2,6.5],[2021.5,-7.0]];
const SPX_MINOR: Pair[] = [[1990.2,-2.4],[1990.8,2.6],[1991.2,2.2],[1991.5,-1.8],[1992.1,-1.3],[1993.0,1.2],[1993.5,-1.1],[1994.6,1.2],[1995.2,-1.0],[1996.3,-1.6],[1996.6,1.5],[1997.5,2.6],[1998.2,-2.8],[1998.9,3.0],[1999.8,3.0],[2000.1,-3.2],[2000.7,3.2],[2001.0,4.5],[2001.5,-3.5],[2002.0,-3.2],[2002.8,3.5],[2003.5,-2.2],[2004.0,1.5],[2005.0,-1.3],[2005.5,1.2],[2006.5,1.6],[2007.2,-3.4],[2007.7,2.8],[2008.5,-3.8],[2009.3,5.0],[2009.6,-3.5],[2010.6,3.0],[2011.2,-2.5],[2011.9,3.5],[2012.4,-2.2],[2013.0,2.0],[2014.1,-2.2],[2015.0,-1.8],[2015.9,2.4],[2016.2,-2.4],[2017.8,-1.2],[2018.2,2.6],[2019.0,-2.6],[2019.4,2.0],[2020.6,-3.0],[2021.0,2.2],[2021.5,-2.0]];
const CRUDE_MINOR: Pair[] = [[1990.35,-6],[1991.3,6],[1991.8,-5],[1992.9,5.5],[1993.7,-5.5],[1994.5,5],[1995.1,-5],[1995.9,5.5],[1996.5,-6.5],[1996.9,7],[1997.7,6.5],[1998.0,-7],[1998.9,8],[1999.3,-7],[2000.0,-8],[2000.6,8],[2001.3,7],[2001.6,7.5],[2002.2,-7],[2003.3,7],[2003.8,-5.5],[2004.2,5],[2004.8,-6],[2005.3,5.5],[2006.2,-5],[2006.8,-5],[2007.4,5],[2007.6,-5.5],[2008.4,-6.5],[2009.2,-8],[2009.9,-6],[2010.6,6],[2011.5,-6],[2011.8,6.5],[2012.6,-5],[2013.0,4.5],[2013.9,-4],[2014.6,-4.5],[2015.0,8],[2015.4,-8],[2015.9,-8],[2016.3,9],[2016.9,-7],[2017.3,5],[2017.9,-4.5],[2018.2,-5],[2018.9,8],[2019.4,-6],[2020.9,6],[2021.4,7],[2021.6,-6]];
const HEATING_MINOR: Pair[] = [[1990.35,-5.5],[1991.3,5],[1991.7,-4.5],[1992.4,4.5],[1993.0,-4.5],[1993.9,4.5],[1994.5,-5],[1995.3,4.5],[1996.4,6],[1996.8,-6],[1997.7,6],[1998.4,-6.5],[1998.9,7],[1999.4,-7],[2000.6,-7.5],[2001.0,7.5],[2001.4,8],[2002.0,-7],[2002.7,-7.5],[2003.3,6.5],[2003.9,-6],[2004.6,5.5],[2005.2,-6],[2005.9,-7],[2006.4,5.5],[2007.0,-5],[2007.4,5],[2008.0,-6],[2008.6,6.5],[2009.1,7],[2009.8,-4.5],[2010.2,4.5],[2011.0,4.5],[2011.6,-5],[2012.2,-4.5],[2013.3,4],[2014.4,4],[2014.9,-5],[2015.4,7],[2016.1,-7],[2016.4,7],[2017.2,4.5],[2017.9,-4.5],[2018.3,5],[2018.9,-6],[2019.3,4.5],[2020.6,-6],[2021.1,6],[2021.5,5.5]];
const NATGAS_MINOR: Pair[] = [[1990.4,8],[1990.6,-7],[1991.5,9],[1991.9,-8],[1992.5,10],[1992.8,-9],[1993.5,9],[1994.0,-10],[1994.5,10],[1995.0,-9],[1995.4,11],[1995.8,-8],[1996.5,12],[1996.6,-14],[1997.1,-12],[1997.8,11],[1998.0,-10],[1998.5,-9],[1999.0,10],[1999.5,9],[2000.0,-10],[2000.4,12],[2000.8,-14],[2001.3,14],[2001.5,-13],[2002.0,12],[2002.7,-12],[2003.0,13],[2003.4,-11],[2003.9,11],[2004.5,10],[2004.8,-10],[2005.1,-10],[2005.6,12],[2006.0,12],[2006.3,-10],[2006.9,10],[2007.6,-9],[2008.0,9],[2008.6,-10],[2008.9,11],[2009.5,-10],[2009.9,11],[2010.6,9],[2011.0,-8],[2011.5,8],[2012.0,-8],[2012.3,10],[2012.9,-8],[2013.5,8],[2014.3,9],[2014.6,-8],[2015.4,9],[2015.7,-9],[2016.1,-8],[2016.7,9],[2017.0,-7],[2017.7,6],[2018.4,6],[2019.1,-6],[2019.8,8],[2020.2,-8],[2020.4,9],[2020.8,-9],[2021.1,10],[2021.6,-10]];
const LUMBER_MINOR: Pair[] = [[1990.2,4.5],[1990.8,-4],[1991.5,5],[1992.0,-5],[1992.7,6],[1993.6,-6],[1994.2,7],[1995.0,6],[1995.5,-5.5],[1996.3,5],[1996.5,-5],[1997.0,-4.5],[1998.0,-5],[1998.4,5.5],[1999.2,5],[1999.7,-4.5],[2000.0,5],[2000.7,-4.5],[2001.3,5.5],[2002.2,-4.5],[2003.0,4.5],[2003.9,-4.5],[2004.3,5],[2005.0,-4],[2005.4,4],[2006.5,3.8],[2007.0,-4],[2007.3,6],[2008.4,7],[2008.8,-6],[2009.1,9],[2009.8,-5],[2010.3,5],[2011.0,-4],[2011.5,4.5],[2012.2,-4],[2013.0,4.5],[2013.3,-4],[2014.0,4],[2015.0,-4],[2015.7,4],[2016.5,-4],[2017.0,4.5],[2017.6,-5],[2018.4,5],[2019.2,-6],[2019.9,5],[2020.4,7],[2020.9,-6],[2021.2,-9]];
const COPPER_MINOR: Pair[] = [[1990.15,4.5],[1990.5,-4],[1990.9,4.5],[1991.2,-3.5],[1991.8,-3.2],[1992.5,3.4],[1992.8,-3.5],[1993.6,-3.8],[1994.3,3.8],[1994.9,3.6],[1995.4,-3.5],[1996.1,3.8],[1996.6,-4.5],[1997.3,4.2],[1998.0,-4.6],[1998.2,4.5],[1999.1,4.4],[1999.6,-3.8],[2000.2,3.6],[2000.9,-3.4],[2001.3,3.2],[2002.3,3.0],[2002.6,-3.2],[2003.2,3.2],[2004.1,4.5],[2004.5,-5.0],[2005.1,5.0],[2005.5,-5.5],[2006.0,6.5],[2006.5,-6.0],[2007.1,-5.5],[2007.5,5.5],[2008.0,-5.5],[2008.4,5.5],[2009.0,6.5],[2009.3,-6.5],[2010.1,5.0],[2010.6,-5.0],[2011.4,4.5],[2011.9,-5.0],[2012.2,3.8],[2013.0,-3.5],[2013.6,3.2],[2014.0,-3.6],[2014.8,3.2],[2015.3,3.5],[2015.7,-3.8],[2016.3,-3.2],[2017.0,3.0],[2017.8,-3.0],[2018.5,3.2],[2019.0,-3.0],[2019.7,3.2],[2020.3,4.0],[2020.5,-4.0],[2021.1,-4.2],[2021.5,4.0]];
const CORN_MINOR: Pair[] = [[1990.2,-3.5],[1991.0,3.5],[1991.7,3.2],[1992.1,-3.6],[1992.8,3.0],[1993.4,-3.2],[1993.6,3.5],[1994.2,-3.8],[1994.6,3.2],[1995.2,-3.6],[1995.9,4.0],[1996.2,-4.5],[1996.9,5.0],[1997.8,4.5],[1998.3,-4.0],[1998.9,-4.0],[1999.3,4.2],[2000.1,-4.5],[2000.6,4.5],[2001.1,-4.0],[2001.8,4.0],[2002.3,-4.2],[2003.0,-4.5],[2003.3,5.0],[2004.0,-5.0],[2004.7,5.0],[2005.3,-4.5],[2005.7,5.0],[2006.0,-4.5],[2006.9,-5.0],[2007.5,6.0],[2007.9,-5.5],[2008.3,6.0],[2008.6,-6.0],[2009.1,5.5],[2009.9,-6.0],[2010.3,6.5],[2010.6,-6.5],[2011.0,6.5],[2011.3,-6.0],[2011.8,6.0],[2012.0,-6.0],[2012.7,5.5],[2013.0,-5.0],[2013.8,5.0],[2014.3,-4.5],[2014.9,4.5],[2015.2,-4.0],[2016.2,4.0],[2017.2,-4.0],[2017.9,3.6],[2018.5,-3.8],[2019.5,4.5],[2019.9,-4.0],[2020.3,-4.5],[2020.9,4.5],[2021.2,5.0]];
const WHEAT_MINOR: Pair[] = [[1990.5,3.0],[1991.0,-3.5],[1991.9,3.0],[1992.6,3.0],[1993.1,-3.5],[1993.5,3.2],[1994.2,-3.5],[1995.1,3.5],[1995.8,-3.5],[1996.5,4.5],[1996.8,-4.5],[1997.3,-4.0],[1998.0,4.0],[1998.3,-4.0],[1999.0,4.5],[1999.8,-4.0],[2000.8,-4.0],[2001.2,4.0],[2001.8,-4.0],[2002.5,4.2],[2003.0,-5.5],[2003.6,6.0],[2004.0,-6.0],[2005.0,6.0],[2005.8,-6.0],[2006.0,6.5],[2006.8,-6.5],[2007.1,7.0],[2008.0,7.5],[2008.5,-7.5],[2009.0,7.5],[2009.7,-7.5],[2010.3,8.0],[2010.9,-8.0],[2011.2,8.0],[2011.7,-8.0],[2012.1,7.5],[2012.6,-7.0],[2013.4,5.5],[2014.0,-5.0],[2014.6,5.5],[2015.0,-5.0],[2015.9,5.0],[2016.3,-5.0],[2017.6,5.0],[2018.0,-5.0],[2018.8,5.0],[2019.4,-5.0],[2020.0,5.0],[2020.7,-5.0],[2021.0,5.5],[2021.5,-5.5]];

// ---------------- per-row axis settings ----------------
const PRICE_SERIES = [GOLD_PRICE, SILVER_PRICE, SPX_PRICE, CRUDE_PRICE, HEATING_PRICE, NATGAS_PRICE, LUMBER_PRICE, COPPER_PRICE, CORN_PRICE, WHEAT_PRICE];
const PRICE_LIMITS: Pair[] = [[183, 2139], [1.0, 51.1], [70, 5020], [-46.8, 154.5], [12, 429], [0.45, 16.07], [60, 1763], [42, 499], [148, 862], [183, 1323]];
const PRICE_TICKS = [[1000, 2000], [25, 50], [2500, 5000], [0, 100], [200, 400], [5, 10, 15], [500, 1000, 1500], [200, 400], [250, 500, 750], [500, 1000]];

const RET_HI = [GOLD_RET_HI, SILVER_RET_HI, SPX_RET_HI, CRUDE_RET_HI, HEATING_RET_HI, NATGAS_RET_HI, LUMBER_RET_HI, COPPER_RET_HI, CORN_RET_HI, WHEAT_RET_HI];
const RET_LO = [GOLD_RET_LO, SILVER_RET_LO, SPX_RET_LO, CRUDE_RET_LO, HEATING_RET_LO, NATGAS_RET_LO, LUMBER_RET_LO, COPPER_RET_LO, CORN_RET_LO, WHEAT_RET_LO];
const RET_SPIKES = [GOLD_SPIKES, SILVER_SPIKES, SPX_SPIKES, CRUDE_SPIKES, HEATING_SPIKES, NATGAS_SPIKES, LUMBER_SPIKES, COPPER_SPIKES, CORN_SPIKES, WHEAT_SPIKES];
const RET_MINOR = [GOLD_MINOR, SILVER_MINOR, SPX_MINOR, CRUDE_MINOR, HEATING_MINOR, NATGAS_MINOR, LUMBER_MINOR, COPPER_MINOR, CORN_MINOR, WHEAT_MINOR];
const RET_LIMITS: Pair[] = [[-10.7, 9.9], [-21.3, 13.9], [-13.8, 12.3], [-43.8, 36.5], [-40, 30], [-41, 42.4], [-44.5, 29.7], [-12.9, 12.7], [-29.5, 14.4], [-31.3, 25.5]];
const RET_TICKS = [[-10, 0], [-20, 0], [-10, 0, 10], [-25, 0, 25], [-25, 0, 25], [-25, 0, 25], [-25, 0, 25], [-10, 0, 10], [-25, 0], [-25, 0, 25]];

// ---------------- layout ----------------
const FONT_SIZE = 20.8;
const SPINE_LEFT = [81, 618];
const AX_W = 449;
const AX_H = 117;
const ROW0 = 42.7;
const ROW_STEP = 140.73;
const Y_W = 78;
const PAD_R = 4;
const EDGE = 24;
const TICK_LEN = 7.3;
const LABEL_DX = [18.8, 4.7];

function geom(col: number, row: number) {
  const axTop = Math.round(ROW0 + ROW_STEP * row);
  const padTop = row === 0 ? axTop : EDGE;
  const xH = row === 9 ? 40 : EDGE;
  return {
    left: SPINE_LEFT[col] - Y_W,
    top: axTop - padTop,
    w: Y_W + AX_W + PAD_R,
    h: padTop + AX_H + xH,
    padTop,
    xH,
  };
}

const fmt = (v: number) => String(v).replace("-", "\u2212");

const decoPlugin = {
  id: "panelDeco",
  beforeDatasetsDraw(chart: any) {
    const { ctx, chartArea: a, scales } = chart;
    const x = scales.x;
    ctx.save();
    ctx.beginPath();
    ctx.rect(a.left, a.top, a.right - a.left, a.bottom - a.top);
    ctx.clip();
    PERIOD_START.forEach((s, i) => {
      const x0 = x.getPixelForValue(s);
      const x1 = x.getPixelForValue(PERIOD_END[i]);
      ctx.fillStyle = PERIOD_COLORS[i];
      ctx.fillRect(x0, a.top, x1 - x0, a.bottom - a.top);
    });
    ctx.restore();
  },
  afterDatasetsDraw(chart: any, _args: any, opts: any) {
    const { ctx, chartArea: a } = chart;
    ctx.save();
    ctx.strokeStyle = "#000";
    ctx.lineWidth = 1.66;
    ctx.strokeRect(a.left, a.top, a.right - a.left, a.bottom - a.top);
    ctx.fillStyle = "#000";
    ctx.font = `${FONT_SIZE}px "DejaVu Sans"`;
    ctx.textBaseline = "alphabetic";
    ctx.textAlign = "left";
    ctx.fillText(opts.label, a.left + opts.dx, a.top + 19);
    if (opts.title) {
      ctx.textAlign = "center";
      ctx.fillText(opts.title, (a.left + a.right) / 2, a.top - 12.7);
    }
    ctx.restore();
  },
};

function needlePoints(list: Pair[]) {
  const sorted = [...list].sort((p, q) => p[0] - q[0]);
  const pts: { x: number; y: number }[] = [];
  sorted.forEach(([t, v]) => {
    pts.push({ x: t, y: 0 }, { x: t, y: v }, { x: t, y: 0 });
  });
  return pts;
}

function buildConfig(col: number, row: number): any {
  const g = geom(col, row);
  const isPrice = col === 0;
  const lim = isPrice ? PRICE_LIMITS[row] : RET_LIMITS[row];
  const yTicks = isPrice ? PRICE_TICKS[row] : RET_TICKS[row];
  let datasets: any[];
  if (isPrice) {
    datasets = [
      {
        data: PRICE_SERIES[row].map(([x, y]) => ({ x, y })),
        borderColor: "#000",
        borderWidth: 1.6,
        pointRadius: 0,
        fill: false,
        borderJoinStyle: "round",
      },
    ];
  } else {
    datasets = [
      {
        data: RET_HI[row].map((y, i) => ({ x: HALF_YEARS[i], y })),
        borderColor: "#000",
        backgroundColor: "#000",
        borderWidth: 1,
        pointRadius: 0,
        fill: "+1",
      },
      {
        data: RET_LO[row].map((y, i) => ({ x: HALF_YEARS[i], y })),
        borderColor: "#000",
        borderWidth: 1,
        pointRadius: 0,
        fill: false,
      },
      {
        data: needlePoints(RET_MINOR[row]),
        borderColor: "#000",
        borderWidth: 1.2,
        pointRadius: 0,
        fill: false,
        borderJoinStyle: "bevel",
      },
      {
        data: needlePoints(RET_SPIKES[row]),
        borderColor: "#000",
        borderWidth: 1.4,
        pointRadius: 0,
        fill: false,
        borderJoinStyle: "bevel",
      },
    ];
  }
  const font = { family: "DejaVu Sans", size: FONT_SIZE };
  return {
    type: "line",
    data: { datasets },
    options: {
      animation: false,
      responsive: false,
      maintainAspectRatio: false,
      devicePixelRatio: 1,
      events: [],
      layout: { padding: { top: g.padTop, right: PAD_R, left: 0, bottom: 0 }, autoPadding: false },
      plugins: {
        legend: { display: false },
        tooltip: { enabled: false },
        title: { display: false },
        panelDeco: { label: ASSETS[row], dx: LABEL_DX[col], title: row === 0 ? COLUMN_TITLES[col] : "" },
      },
      elements: { point: { radius: 0 }, line: { tension: 0 } },
      scales: {
        x: {
          type: "linear",
          position: "bottom",
          min: X_START,
          max: X_END,
          afterBuildTicks: (s: any) => {
            s.ticks = YEAR_TICKS.map((v) => ({ value: v }));
          },
          afterFit: (s: any) => {
            s.height = g.xH;
          },
          ticks: {
            autoSkip: false,
            maxRotation: 0,
            minRotation: 0,
            padding: 4,
            color: "#000",
            font,
            callback: (v: number) => (row === 9 ? YEAR_LABELS[YEAR_TICKS.indexOf(v)] ?? "" : ""),
          },
          grid: {
            display: true,
            drawOnChartArea: false,
            drawTicks: true,
            tickLength: TICK_LEN,
            tickWidth: 1.66,
            tickColor: "#000",
          },
          border: { display: false },
        },
        y: {
          type: "linear",
          position: "left",
          min: lim[0],
          max: lim[1],
          afterBuildTicks: (s: any) => {
            s.ticks = yTicks.map((v) => ({ value: v }));
          },
          afterFit: (s: any) => {
            s.width = Y_W;
          },
          ticks: {
            autoSkip: false,
            padding: 7.5,
            color: "#000",
            font,
            callback: (v: number) => fmt(v),
          },
          grid: {
            display: true,
            drawOnChartArea: false,
            drawTicks: true,
            tickLength: TICK_LEN,
            tickWidth: 1.66,
            tickColor: "#000",
          },
          border: { display: false },
        },
      },
    },
    plugins: [decoPlugin],
  };
}

function Panel({ col, row }: { col: number; row: number }) {
  const ref = useRef<HTMLCanvasElement | null>(null);
  const g = geom(col, row);
  useEffect(() => {
    if (!ref.current) return;
    const chart = new Chart(ref.current, buildConfig(col, row));
    return () => chart.destroy();
  }, [col, row]);
  return (
    <canvas
      ref={ref}
      width={g.w}
      height={g.h}
      style={{ position: "absolute", left: g.left, top: g.top, width: g.w, height: g.h }}
    />
  );
}

export default function App() {
  const panels: { col: number; row: number }[] = [];
  for (let row = 0; row < ASSETS.length; row++) {
    for (let col = 0; col < 2; col++) panels.push({ col, row });
  }
  return (
    <div
      style={{
        position: "absolute",
        left: 0,
        top: 0,
        width: 1058,
        height: 1459,
        overflow: "hidden",
        background: "#fff",
      }}
    >
      {panels.map((p) => (
        <Panel key={`${p.col}-${p.row}`} col={p.col} row={p.row} />
      ))}
    </div>
  );
}
